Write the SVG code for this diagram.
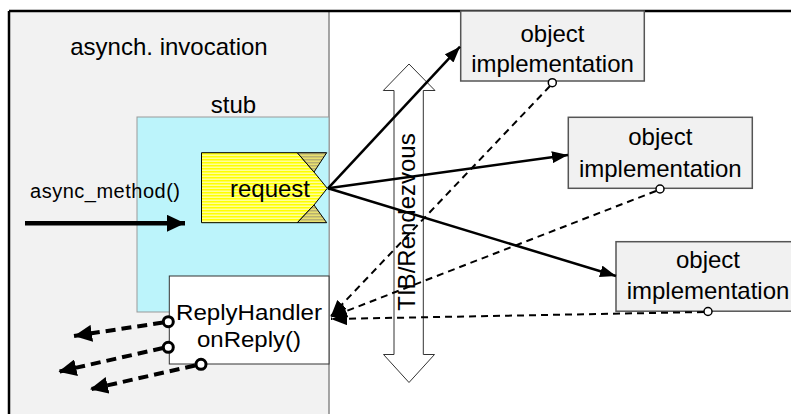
<svg xmlns="http://www.w3.org/2000/svg" width="791" height="414" viewBox="0 0 791 414">
<defs>
<style>
text{font-family:"Liberation Sans",Arial,sans-serif;fill:#000;}
.lbl{font-size:24px;text-anchor:middle;}
.rh{font-size:22px;text-anchor:middle;}
.obj{fill:#f1f1f1;stroke:#555;stroke-width:1.5;}
.solid{stroke:#000;stroke-width:2.5;fill:none;}
.dash{stroke:#000;stroke-width:2;fill:none;stroke-dasharray:7,5;}
.thick{stroke:#000;stroke-width:4;fill:none;stroke-dasharray:10,6;}
</style>
<pattern id="stripes" width="4" height="3" patternUnits="userSpaceOnUse">
<rect width="4" height="3" fill="#ffff99"/>
<rect width="4" height="1.5" fill="#ffff00"/>
</pattern>
<pattern id="stripes2" width="4" height="3" patternUnits="userSpaceOnUse">
<rect width="4" height="3" fill="#e8e070"/>
<rect width="4" height="1.5" fill="#b8b070"/>
</pattern>
<marker id="ah" viewBox="0 0 16 12" refX="16" refY="6" markerWidth="16" markerHeight="12" orient="auto" markerUnits="userSpaceOnUse">
<path d="M0,0 L16,6 L0,12 z" fill="#000"/>
</marker>
<marker id="ahd" viewBox="0 0 16 13" refX="16" refY="6.5" markerWidth="16" markerHeight="13" orient="auto" markerUnits="userSpaceOnUse">
<path d="M0,0 L16,6.5 L0,13 z" fill="#000"/>
</marker>
<marker id="ahk" viewBox="0 0 18 17" refX="18" refY="8.5" markerWidth="18" markerHeight="17" orient="auto" markerUnits="userSpaceOnUse">
<path d="M0,0 L18,8.5 L0,17 z" fill="#000"/>
</marker>
</defs>
<rect width="791" height="414" fill="#fff"/>
<g id="invocation-panel">
<rect x="9" y="11" width="320" height="410" fill="#f2f2f2"/>
<line x1="329" y1="11" x2="329" y2="414" stroke="#888" stroke-width="1.5"/>
<text class="lbl" x="169" y="55">asynch. invocation</text>
</g>
<g id="frame">
<line x1="9" y1="11" x2="791" y2="11" stroke="#000" stroke-width="2.5"/>
<line x1="9" y1="11" x2="9" y2="414" stroke="#000" stroke-width="2.5"/>
</g>
<g id="stub">
<rect x="137" y="117" width="192" height="195" fill="#bcf4fb" stroke="#999" stroke-width="1"/>
<text class="lbl" x="233.5" y="113">stub</text>
</g>
<g id="request">
<path d="M201.5,152.7 L297.3,152.7 L314,172 L327.3,188.3 L314,205 L297.3,222.7 L201.5,222.7 Z" fill="url(#stripes)" stroke="#000" stroke-width="1"/>
<path d="M297.3,152.7 L326.7,152.7 L314,172 Z" fill="url(#stripes2)" stroke="#000" stroke-width="1"/>
<path d="M297.3,222.7 L326.7,222.7 L314,205 Z" fill="url(#stripes2)" stroke="#000" stroke-width="1"/>
<text class="lbl" x="270" y="197">request</text>
</g>
<g id="replyhandler">
<rect x="169.3" y="276" width="159.7" height="88" fill="#fff" stroke="#333" stroke-width="1"/>
<text class="rh" x="249" y="320" textLength="146" lengthAdjust="spacingAndGlyphs">ReplyHandler</text>
<text class="rh" x="249" y="347" textLength="104" lengthAdjust="spacingAndGlyphs">onReply()</text>
</g>
<g id="tib">
<path d="M409,64 L435,90.5 L423.3,90.5 L423.3,354.5 L434.5,354.5 L409,382.5 L383.5,354.5 L394,354.5 L394,90.5 L383.3,90.5 Z" fill="#fff" stroke="#333" stroke-width="1"/>
<text class="lbl" transform="translate(415,222) rotate(-90)" x="0" y="0">TIB/Rendezvous</text>
</g>
<g id="obj1">
<rect class="obj" x="460.7" y="11" width="183.6" height="70"/>
<text class="lbl" x="552.5" y="41.7">object</text>
<text class="lbl" x="552.5" y="71.7">implementation</text>
</g>
<g id="obj2">
<rect class="obj" x="568.3" y="117.3" width="184" height="71"/>
<text class="lbl" x="660.3" y="145">object</text>
<text class="lbl" x="660.3" y="176.7">implementation</text>
</g>
<g id="obj3">
<rect class="obj" x="616" y="241.7" width="186" height="69.5"/>
<text class="lbl" x="708" y="267.7">object</text>
<text class="lbl" x="708" y="298.5">implementation</text>
</g>
<g id="connectors">
<line class="solid" x1="328" y1="188.3" x2="460" y2="46.7" marker-end="url(#ah)"/>
<line class="solid" x1="328" y1="188.3" x2="568" y2="155" marker-end="url(#ah)"/>
<line class="solid" x1="328" y1="188.3" x2="616" y2="276" marker-end="url(#ah)"/>
<line x1="25" y1="223.3" x2="185" y2="223.3" stroke="#000" stroke-width="4.5" marker-end="url(#ahk)"/>
<line class="dash" x1="550" y1="86" x2="331" y2="316" marker-end="url(#ahd)"/>
<line class="dash" x1="656" y1="191" x2="331" y2="317" marker-end="url(#ahd)"/>
<line class="dash" x1="704" y1="312" x2="331" y2="319" marker-end="url(#ahd)"/>
<circle cx="552.3" cy="82.7" r="4" fill="#fff" stroke="#000" stroke-width="1.5"/>
<circle cx="660" cy="189" r="4" fill="#fff" stroke="#000" stroke-width="1.5"/>
<circle cx="708" cy="311.5" r="4" fill="#fff" stroke="#000" stroke-width="1.5"/>
<line class="thick" x1="163" y1="322.5" x2="74" y2="336" marker-end="url(#ahk)"/>
<line class="thick" x1="163" y1="348" x2="58.5" y2="371.7" marker-end="url(#ahk)"/>
<line class="thick" x1="195" y1="365.5" x2="90" y2="389.3" marker-end="url(#ahk)"/>
<circle cx="168.3" cy="321.7" r="5" fill="#fff" stroke="#000" stroke-width="3"/>
<circle cx="168.3" cy="347.3" r="5" fill="#fff" stroke="#000" stroke-width="3"/>
<circle cx="201" cy="364.3" r="5" fill="#fff" stroke="#000" stroke-width="3"/>
</g>
<text x="30" y="198" font-size="20" textLength="150" lengthAdjust="spacing">async_method()</text>
</svg>
